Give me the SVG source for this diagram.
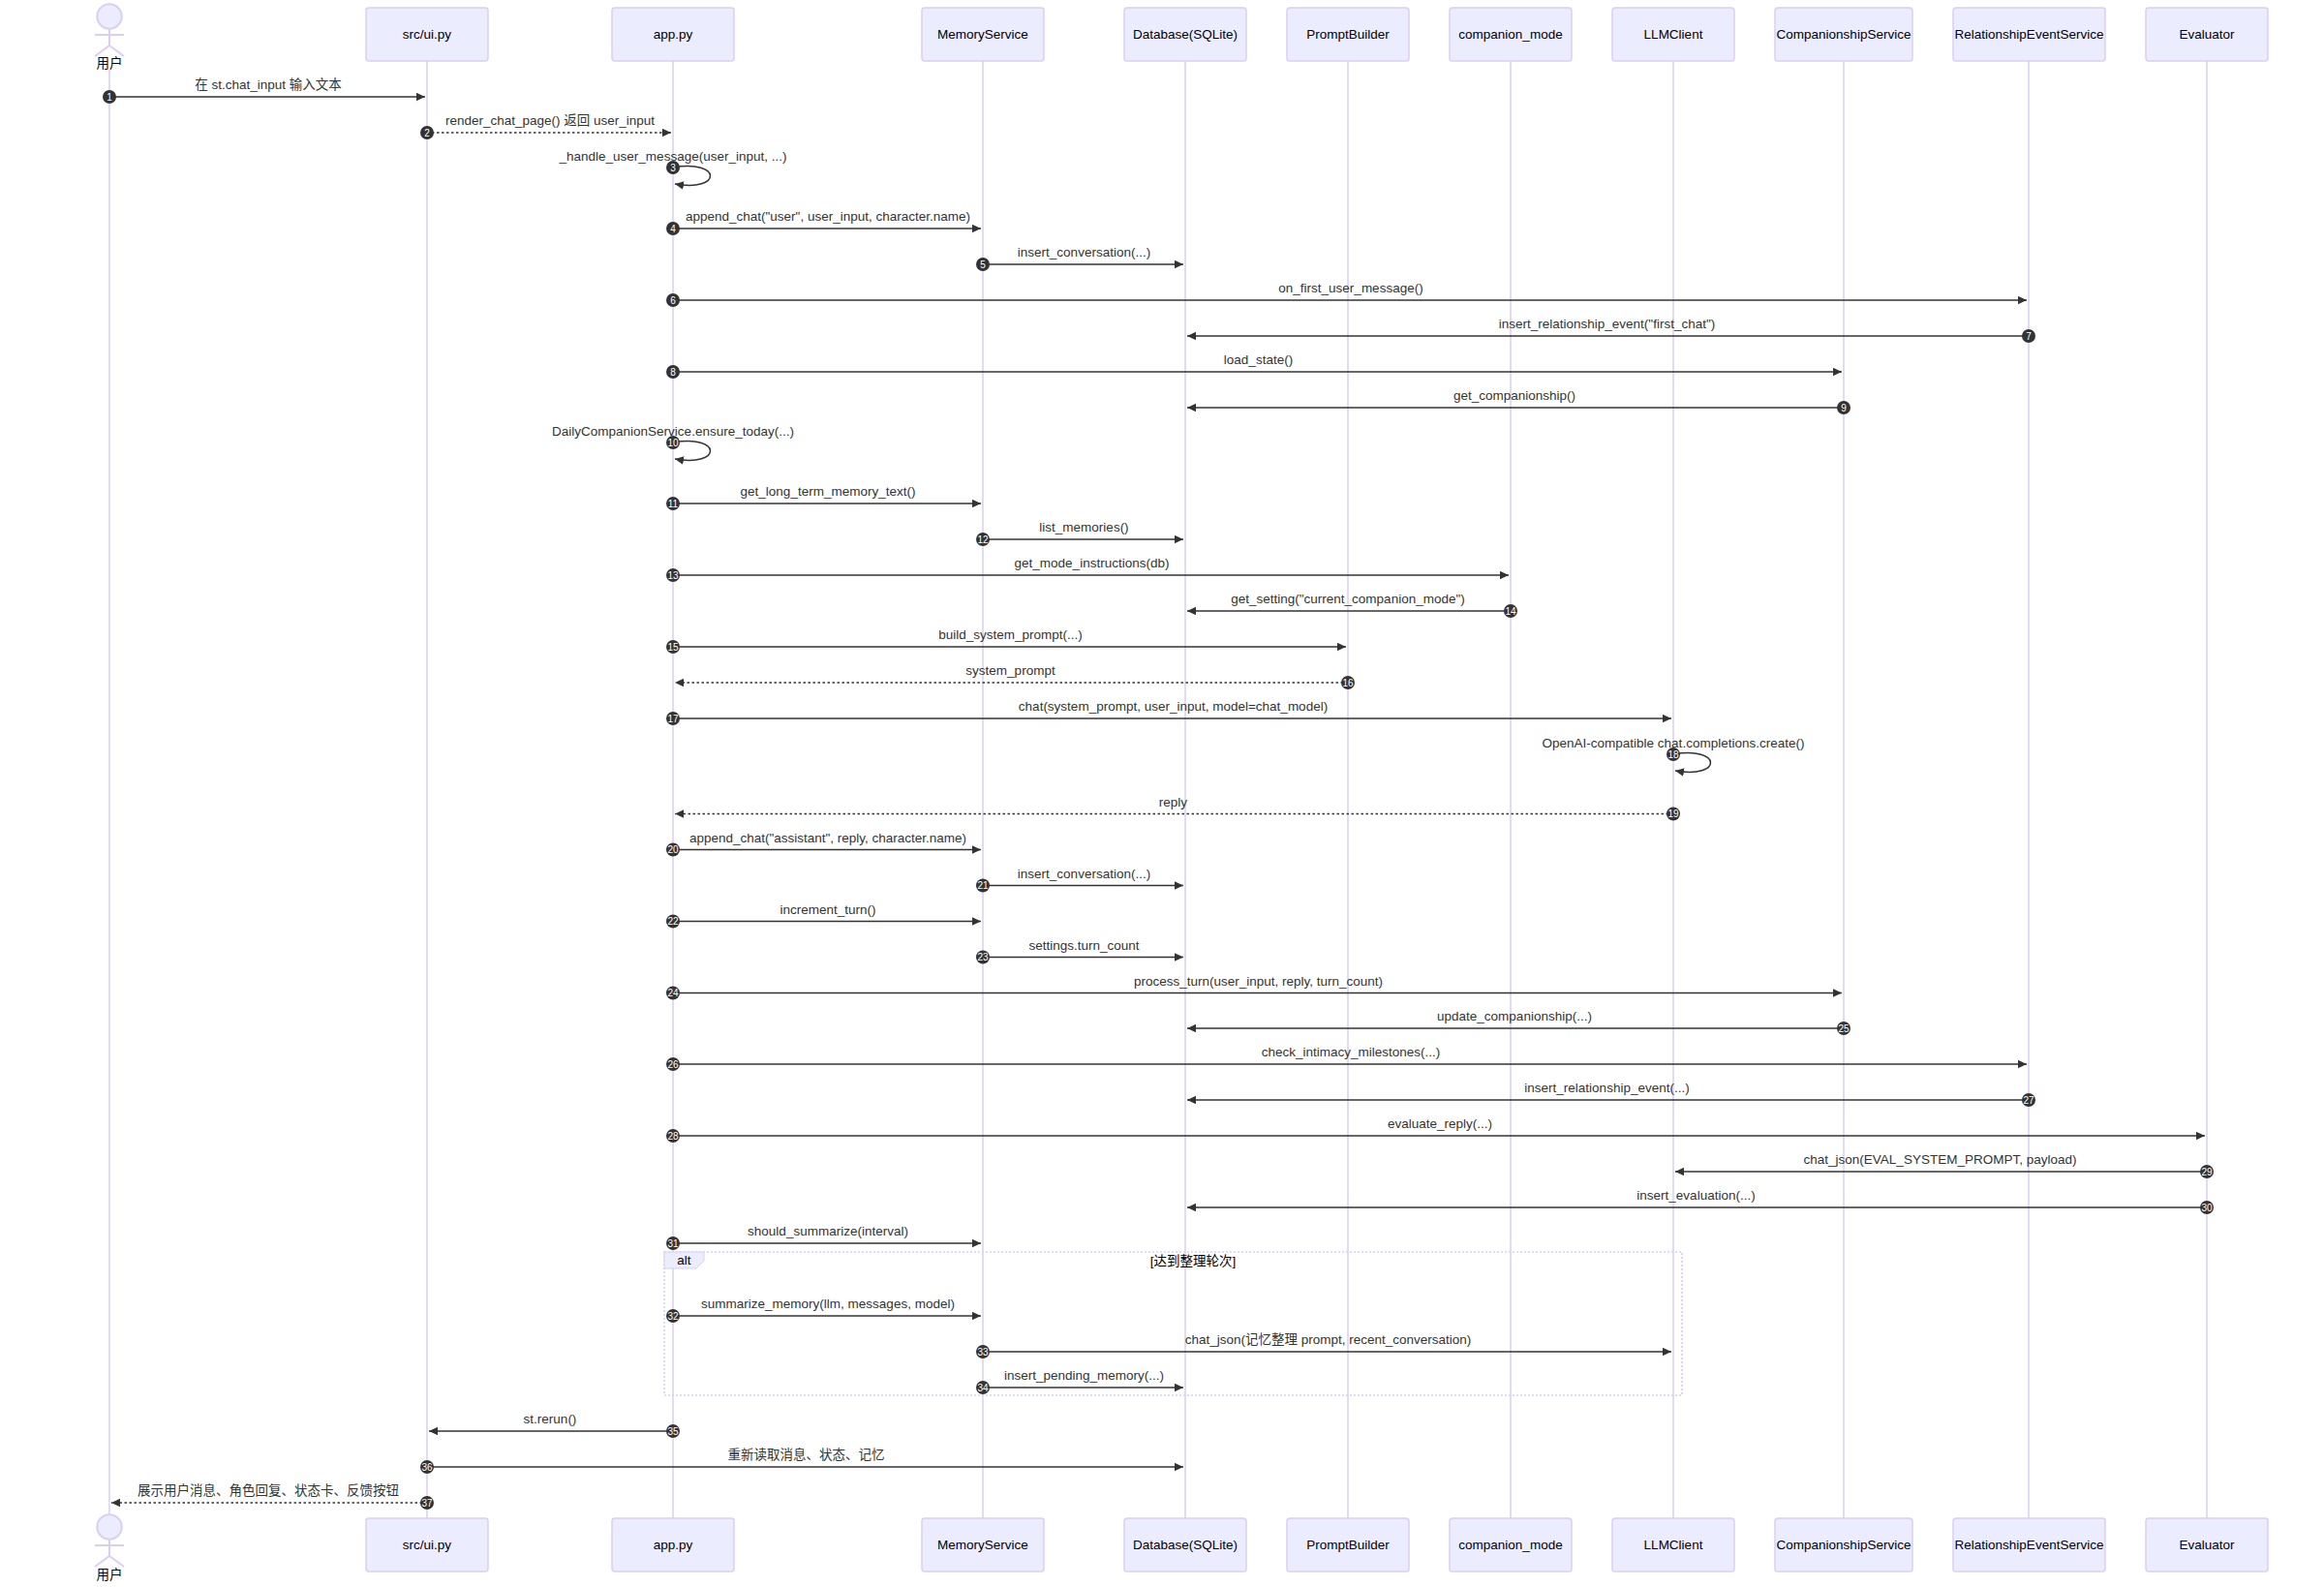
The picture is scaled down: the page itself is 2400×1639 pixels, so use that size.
<svg xmlns="http://www.w3.org/2000/svg" width="2400" height="1639" viewBox="0 0 2400 1639">
<style>
.bg{fill:#ffffff}
.actor{fill:#ECECFF;stroke:#DACEF3;stroke-width:1.5}
.man{fill:#ECECFF;stroke:#DACEF3;stroke-width:2}
.life{stroke:#DACEF3;stroke-width:1.5}
.atext{font-family:"Liberation Sans","Noto Sans CJK SC",sans-serif;font-size:13.5px;fill:#000;text-anchor:middle;dominant-baseline:central}
.mtext{font-family:"Liberation Sans","Noto Sans CJK SC",sans-serif;font-size:13.5px;fill:#333;text-anchor:middle}
.msg{stroke:#333;stroke-width:1.5;fill:none;marker-end:url(#arrow)}
.dash{stroke-dasharray:2.5,2.5}
.num{fill:#333;stroke:none}
.ntext{font-family:"Liberation Sans",sans-serif;font-size:10px;fill:#fff;text-anchor:middle;dominant-baseline:central}
.loop{stroke:#DACEF3;stroke-width:1.7;stroke-dasharray:2,2;fill:none}
.lbox{fill:#ECECFF;stroke:#DACEF3;stroke-width:1}
.ltext{font-family:"Liberation Sans","Noto Sans CJK SC",sans-serif;font-size:13.5px;fill:#000;text-anchor:middle;dominant-baseline:central}
</style>
<defs>
<marker id="arrow" markerUnits="userSpaceOnUse" markerWidth="10" markerHeight="10" refX="9" refY="4.25" orient="auto">
<path d="M0,0 L9,4.25 L0,8.5 z" fill="#333"/>
</marker>
</defs>
<rect class="bg" x="0" y="0" width="2400" height="1639"/>

<g id="lifelines">
<line class="life" x1="113" y1="72" x2="113" y2="1564"/>
<line class="life" x1="441" y1="63" x2="441" y2="1568"/>
<line class="life" x1="695" y1="63" x2="695" y2="1568"/>
<line class="life" x1="1015" y1="63" x2="1015" y2="1568"/>
<line class="life" x1="1224" y1="63" x2="1224" y2="1568"/>
<line class="life" x1="1392" y1="63" x2="1392" y2="1568"/>
<line class="life" x1="1560" y1="63" x2="1560" y2="1568"/>
<line class="life" x1="1728" y1="63" x2="1728" y2="1568"/>
<line class="life" x1="1904" y1="63" x2="1904" y2="1568"/>
<line class="life" x1="2095" y1="63" x2="2095" y2="1568"/>
<line class="life" x1="2279" y1="63" x2="2279" y2="1568"/>
</g>

<g id="user">
<circle class="man" cx="113" cy="17" r="12.7"/>
<line class="man" x1="113" y1="29.7" x2="113" y2="47"/>
<line class="man" x1="98" y1="36" x2="128" y2="36"/>
<line class="man" x1="113" y1="47" x2="98" y2="58"/>
<line class="man" x1="113" y1="47" x2="128" y2="58"/>
<text class="atext" x="113" y="65">用户</text>
</g>
<g id="user-bottom">
<circle class="man" cx="113" cy="1577" r="12.7"/>
<line class="man" x1="113" y1="1589.7" x2="113" y2="1607"/>
<line class="man" x1="98" y1="1596" x2="128" y2="1596"/>
<line class="man" x1="113" y1="1607" x2="98" y2="1618"/>
<line class="man" x1="113" y1="1607" x2="128" y2="1618"/>
<text class="atext" x="113" y="1626">用户</text>
</g>

<g id="ui"><rect class="actor" x="378" y="8" width="126" height="55" rx="3"/><text class="atext" x="441" y="35.5">src/ui.py</text></g>
<g id="app"><rect class="actor" x="632" y="8" width="126" height="55" rx="3"/><text class="atext" x="695" y="35.5">app.py</text></g>
<g id="memory"><rect class="actor" x="952" y="8" width="126" height="55" rx="3"/><text class="atext" x="1015" y="35.5">MemoryService</text></g>
<g id="db"><rect class="actor" x="1161" y="8" width="126" height="55" rx="3"/><text class="atext" x="1224" y="35.5">Database(SQLite)</text></g>
<g id="prompt"><rect class="actor" x="1329" y="8" width="126" height="55" rx="3"/><text class="atext" x="1392" y="35.5">PromptBuilder</text></g>
<g id="mode"><rect class="actor" x="1497" y="8" width="126" height="55" rx="3"/><text class="atext" x="1560" y="35.5">companion_mode</text></g>
<g id="llm"><rect class="actor" x="1665" y="8" width="126" height="55" rx="3"/><text class="atext" x="1728" y="35.5">LLMClient</text></g>
<g id="comp"><rect class="actor" x="1833" y="8" width="142" height="55" rx="3"/><text class="atext" x="1904" y="35.5">CompanionshipService</text></g>
<g id="rel"><rect class="actor" x="2017" y="8" width="157" height="55" rx="3"/><text class="atext" x="2095.5" y="35.5">RelationshipEventService</text></g>
<g id="eval"><rect class="actor" x="2216" y="8" width="126" height="55" rx="3"/><text class="atext" x="2279" y="35.5">Evaluator</text></g>

<g id="ui-bottom"><rect class="actor" x="378" y="1568" width="126" height="55" rx="3"/><text class="atext" x="441" y="1595.5">src/ui.py</text></g>
<g id="app-bottom"><rect class="actor" x="632" y="1568" width="126" height="55" rx="3"/><text class="atext" x="695" y="1595.5">app.py</text></g>
<g id="memory-bottom"><rect class="actor" x="952" y="1568" width="126" height="55" rx="3"/><text class="atext" x="1015" y="1595.5">MemoryService</text></g>
<g id="db-bottom"><rect class="actor" x="1161" y="1568" width="126" height="55" rx="3"/><text class="atext" x="1224" y="1595.5">Database(SQLite)</text></g>
<g id="prompt-bottom"><rect class="actor" x="1329" y="1568" width="126" height="55" rx="3"/><text class="atext" x="1392" y="1595.5">PromptBuilder</text></g>
<g id="mode-bottom"><rect class="actor" x="1497" y="1568" width="126" height="55" rx="3"/><text class="atext" x="1560" y="1595.5">companion_mode</text></g>
<g id="llm-bottom"><rect class="actor" x="1665" y="1568" width="126" height="55" rx="3"/><text class="atext" x="1728" y="1595.5">LLMClient</text></g>
<g id="comp-bottom"><rect class="actor" x="1833" y="1568" width="142" height="55" rx="3"/><text class="atext" x="1904" y="1595.5">CompanionshipService</text></g>
<g id="rel-bottom"><rect class="actor" x="2017" y="1568" width="157" height="55" rx="3"/><text class="atext" x="2095.5" y="1595.5">RelationshipEventService</text></g>
<g id="eval-bottom"><rect class="actor" x="2216" y="1568" width="126" height="55" rx="3"/><text class="atext" x="2279" y="1595.5">Evaluator</text></g>

<g id="alt-frame">
<rect class="loop" x="686" y="1293" width="1051" height="148"/>
<polygon class="lbox" points="686,1293 727,1293 727,1302 719,1310 686,1310"/>
<text class="ltext" x="706.5" y="1301.5">alt</text>
<text class="ltext" x="1232" y="1302">[达到整理轮次]</text>
</g>

<g id="connectors">
<line class="msg" x1="113" y1="100" x2="439" y2="100"/>
<text class="mtext" x="277" y="92">在 st.chat_input 输入文本</text>
<line class="msg dash" x1="441" y1="137" x2="693" y2="137"/>
<text class="mtext" x="568" y="129">render_chat_page() 返回 user_input</text>
<path class="msg" d="M695,173 C746,164.5 746,198.5 697,190"/>
<text class="mtext" x="695" y="165.5">_handle_user_message(user_input, ...)</text>
<line class="msg" x1="695" y1="236" x2="1013" y2="236"/>
<text class="mtext" x="855" y="228">append_chat("user", user_input, character.name)</text>
<line class="msg" x1="1015" y1="273" x2="1222" y2="273"/>
<text class="mtext" x="1119.5" y="265">insert_conversation(...)</text>
<line class="msg" x1="695" y1="310" x2="2093" y2="310"/>
<text class="mtext" x="1395" y="302">on_first_user_message()</text>
<line class="msg" x1="2095" y1="347" x2="1226" y2="347"/>
<text class="mtext" x="1659.5" y="339">insert_relationship_event("first_chat")</text>
<line class="msg" x1="695" y1="384" x2="1902" y2="384"/>
<text class="mtext" x="1299.5" y="376">load_state()</text>
<line class="msg" x1="1904" y1="421" x2="1226" y2="421"/>
<text class="mtext" x="1564" y="413">get_companionship()</text>
<path class="msg" d="M695,457 C746,448.5 746,482.5 697,474"/>
<text class="mtext" x="695" y="449.5">DailyCompanionService.ensure_today(...)</text>
<line class="msg" x1="695" y1="520" x2="1013" y2="520"/>
<text class="mtext" x="855" y="512">get_long_term_memory_text()</text>
<line class="msg" x1="1015" y1="557" x2="1222" y2="557"/>
<text class="mtext" x="1119.5" y="549">list_memories()</text>
<line class="msg" x1="695" y1="594" x2="1558" y2="594"/>
<text class="mtext" x="1127.5" y="586">get_mode_instructions(db)</text>
<line class="msg" x1="1560" y1="631" x2="1226" y2="631"/>
<text class="mtext" x="1392" y="623">get_setting("current_companion_mode")</text>
<line class="msg" x1="695" y1="668" x2="1390" y2="668"/>
<text class="mtext" x="1043.5" y="660">build_system_prompt(...)</text>
<line class="msg dash" x1="1392" y1="705" x2="697" y2="705"/>
<text class="mtext" x="1043.5" y="697">system_prompt</text>
<line class="msg" x1="695" y1="742" x2="1726" y2="742"/>
<text class="mtext" x="1211.5" y="734">chat(system_prompt, user_input, model=chat_model)</text>
<path class="msg" d="M1728,779 C1779,770.5 1779,804.5 1730,796"/>
<text class="mtext" x="1728" y="771.5">OpenAI-compatible chat.completions.create()</text>
<line class="msg dash" x1="1728" y1="840.5" x2="697" y2="840.5"/>
<text class="mtext" x="1211.5" y="832.5">reply</text>
<line class="msg" x1="695" y1="877.5" x2="1013" y2="877.5"/>
<text class="mtext" x="855" y="869.5">append_chat("assistant", reply, character.name)</text>
<line class="msg" x1="1015" y1="914.5" x2="1222" y2="914.5"/>
<text class="mtext" x="1119.5" y="906.5">insert_conversation(...)</text>
<line class="msg" x1="695" y1="951.5" x2="1013" y2="951.5"/>
<text class="mtext" x="855" y="943.5">increment_turn()</text>
<line class="msg" x1="1015" y1="988.5" x2="1222" y2="988.5"/>
<text class="mtext" x="1119.5" y="980.5">settings.turn_count</text>
<line class="msg" x1="695" y1="1025.5" x2="1902" y2="1025.5"/>
<text class="mtext" x="1299.5" y="1017.5">process_turn(user_input, reply, turn_count)</text>
<line class="msg" x1="1904" y1="1062" x2="1226" y2="1062"/>
<text class="mtext" x="1564" y="1054">update_companionship(...)</text>
<line class="msg" x1="695" y1="1099" x2="2093" y2="1099"/>
<text class="mtext" x="1395" y="1091">check_intimacy_milestones(...)</text>
<line class="msg" x1="2095" y1="1136" x2="1226" y2="1136"/>
<text class="mtext" x="1659.5" y="1128">insert_relationship_event(...)</text>
<line class="msg" x1="695" y1="1173" x2="2277" y2="1173"/>
<text class="mtext" x="1487" y="1165">evaluate_reply(...)</text>
<line class="msg" x1="2279" y1="1210" x2="1730" y2="1210"/>
<text class="mtext" x="2003.5" y="1202">chat_json(EVAL_SYSTEM_PROMPT, payload)</text>
<line class="msg" x1="2279" y1="1247" x2="1226" y2="1247"/>
<text class="mtext" x="1751.5" y="1239">insert_evaluation(...)</text>
<line class="msg" x1="695" y1="1284" x2="1013" y2="1284"/>
<text class="mtext" x="855" y="1276">should_summarize(interval)</text>
<line class="msg" x1="695" y1="1359" x2="1013" y2="1359"/>
<text class="mtext" x="855" y="1351">summarize_memory(llm, messages, model)</text>
<line class="msg" x1="1015" y1="1396" x2="1726" y2="1396"/>
<text class="mtext" x="1371.5" y="1388">chat_json(记忆整理 prompt, recent_conversation)</text>
<line class="msg" x1="1015" y1="1433" x2="1222" y2="1433"/>
<text class="mtext" x="1119.5" y="1425">insert_pending_memory(...)</text>
<line class="msg" x1="695" y1="1478" x2="443" y2="1478"/>
<text class="mtext" x="568" y="1470">st.rerun()</text>
<line class="msg" x1="441" y1="1515" x2="1222" y2="1515"/>
<text class="mtext" x="832.5" y="1507">重新读取消息、状态、记忆</text>
<line class="msg dash" x1="441" y1="1552" x2="115" y2="1552"/>
<text class="mtext" x="277" y="1544">展示用户消息、角色回复、状态卡、反馈按钮</text>
</g>

<g id="sequence-numbers">
<circle class="num" cx="113" cy="100" r="7"/><text class="ntext" x="113" y="100">1</text>
<circle class="num" cx="441" cy="137" r="7"/><text class="ntext" x="441" y="137">2</text>
<circle class="num" cx="695" cy="173" r="7"/><text class="ntext" x="695" y="173">3</text>
<circle class="num" cx="695" cy="236" r="7"/><text class="ntext" x="695" y="236">4</text>
<circle class="num" cx="1015" cy="273" r="7"/><text class="ntext" x="1015" y="273">5</text>
<circle class="num" cx="695" cy="310" r="7"/><text class="ntext" x="695" y="310">6</text>
<circle class="num" cx="2095" cy="347" r="7"/><text class="ntext" x="2095" y="347">7</text>
<circle class="num" cx="695" cy="384" r="7"/><text class="ntext" x="695" y="384">8</text>
<circle class="num" cx="1904" cy="421" r="7"/><text class="ntext" x="1904" y="421">9</text>
<circle class="num" cx="695" cy="457" r="7"/><text class="ntext" x="695" y="457">10</text>
<circle class="num" cx="695" cy="520" r="7"/><text class="ntext" x="695" y="520">11</text>
<circle class="num" cx="1015" cy="557" r="7"/><text class="ntext" x="1015" y="557">12</text>
<circle class="num" cx="695" cy="594" r="7"/><text class="ntext" x="695" y="594">13</text>
<circle class="num" cx="1560" cy="631" r="7"/><text class="ntext" x="1560" y="631">14</text>
<circle class="num" cx="695" cy="668" r="7"/><text class="ntext" x="695" y="668">15</text>
<circle class="num" cx="1392" cy="705" r="7"/><text class="ntext" x="1392" y="705">16</text>
<circle class="num" cx="695" cy="742" r="7"/><text class="ntext" x="695" y="742">17</text>
<circle class="num" cx="1728" cy="779" r="7"/><text class="ntext" x="1728" y="779">18</text>
<circle class="num" cx="1728" cy="840.5" r="7"/><text class="ntext" x="1728" y="840.5">19</text>
<circle class="num" cx="695" cy="877.5" r="7"/><text class="ntext" x="695" y="877.5">20</text>
<circle class="num" cx="1015" cy="914.5" r="7"/><text class="ntext" x="1015" y="914.5">21</text>
<circle class="num" cx="695" cy="951.5" r="7"/><text class="ntext" x="695" y="951.5">22</text>
<circle class="num" cx="1015" cy="988.5" r="7"/><text class="ntext" x="1015" y="988.5">23</text>
<circle class="num" cx="695" cy="1025.5" r="7"/><text class="ntext" x="695" y="1025.5">24</text>
<circle class="num" cx="1904" cy="1062" r="7"/><text class="ntext" x="1904" y="1062">25</text>
<circle class="num" cx="695" cy="1099" r="7"/><text class="ntext" x="695" y="1099">26</text>
<circle class="num" cx="2095" cy="1136" r="7"/><text class="ntext" x="2095" y="1136">27</text>
<circle class="num" cx="695" cy="1173" r="7"/><text class="ntext" x="695" y="1173">28</text>
<circle class="num" cx="2279" cy="1210" r="7"/><text class="ntext" x="2279" y="1210">29</text>
<circle class="num" cx="2279" cy="1247" r="7"/><text class="ntext" x="2279" y="1247">30</text>
<circle class="num" cx="695" cy="1284" r="7"/><text class="ntext" x="695" y="1284">31</text>
<circle class="num" cx="695" cy="1359" r="7"/><text class="ntext" x="695" y="1359">32</text>
<circle class="num" cx="1015" cy="1396" r="7"/><text class="ntext" x="1015" y="1396">33</text>
<circle class="num" cx="1015" cy="1433" r="7"/><text class="ntext" x="1015" y="1433">34</text>
<circle class="num" cx="695" cy="1478" r="7"/><text class="ntext" x="695" y="1478">35</text>
<circle class="num" cx="441" cy="1515" r="7"/><text class="ntext" x="441" y="1515">36</text>
<circle class="num" cx="441" cy="1552" r="7"/><text class="ntext" x="441" y="1552">37</text>
</g>
</svg>
